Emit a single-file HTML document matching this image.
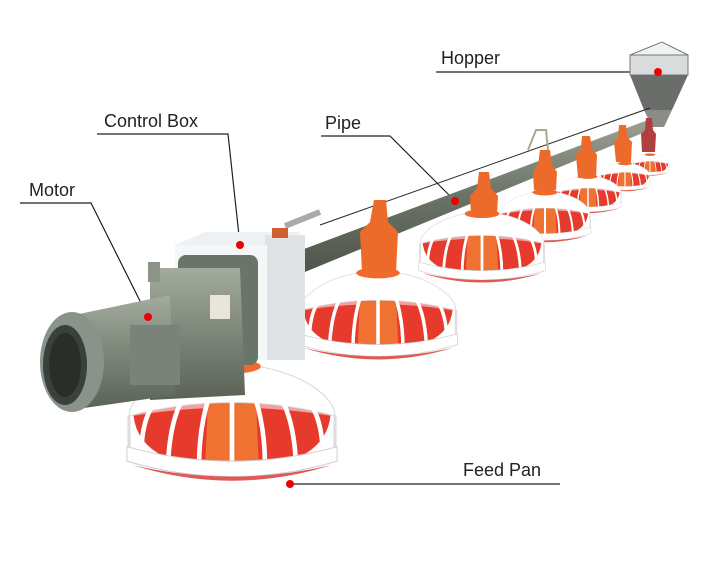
<!DOCTYPE html>
<html><head><meta charset="utf-8"><style>
html,body{margin:0;padding:0;background:#fff;width:727px;height:561px;overflow:hidden}
svg{display:block}
text{font-family:"Liberation Sans",Arial,sans-serif;font-size:18px;fill:#222}
</style></head><body>
<svg width="727" height="561" viewBox="0 0 727 561" xmlns="http://www.w3.org/2000/svg">
<defs>
<linearGradient id="pipe" x1="0" y1="0" x2="0" y2="1">
<stop offset="0" stop-color="#9aa194"/><stop offset="0.5" stop-color="#6b7366"/><stop offset="1" stop-color="#4e544b"/></linearGradient>
<linearGradient id="mot" x1="0" y1="0" x2="0" y2="1">
<stop offset="0" stop-color="#a3ab9f"/><stop offset="0.5" stop-color="#7d8679"/><stop offset="1" stop-color="#5a6258"/></linearGradient>
<g id="pan">
<path d="M-96,55 Q-96,112 0,114 Q96,112 96,55 Q0,38 -96,55 Z" fill="#e63a2c"/>
<path d="M-96,55 Q0,38 96,55 L96,62 Q0,46 -96,62 Z" fill="#f3a0a0"/>
<path d="M-22,20 L22,20 L26,108 L-26,108 Z" fill="#f07232"/>
<path d="M-100,62 C-100,40 -55,12 0,12 C55,12 100,40 100,62 Q0,36 -100,62 Z" fill="#fff" stroke="#d8d8d8"/>
<path d="M-100,95 C-100,70 -100,62 -100,62 M100,62 L100,95" stroke="#ddd" stroke-width="3"/>
<path d="M-88,100 C-88,70 -80,52 -70,44 M-62,106 C-60,70 -52,50 -44,40 M-32,110 C-32,75 -25,50 -20,38 M0,112 L0,36 M32,110 C32,75 25,50 20,38 M62,106 C60,70 52,50 44,40 M88,100 C88,70 80,52 70,44" fill="none" stroke="#fff" stroke-width="4.5"/>
<path d="M-102,92 Q0,120 102,92 L102,106 Q0,136 -102,106 Z" fill="#fff" stroke="#d0d0d0"/>
<path d="M-96,110 Q0,140 96,110 Q0,132 -96,110 Z" fill="#e05a55"/>
<ellipse cx="0" cy="14" rx="28" ry="7" fill="#ef6a2c"/>
</g>
</defs>

<g stroke="#222" stroke-width="1.2" fill="none">
<polyline points="436,72 658,72"/>
<polyline points="321,136 390,136 455,201"/>
<polyline points="97,134 228,134 240,245"/>
<polyline points="20,203 91,203 148,317"/>
<polyline points="290,484 560,484"/>
</g>
<text x="441" y="64">Hopper</text>
<text x="325" y="129">Pipe</text>
<text x="104" y="127">Control Box</text>
<text x="29" y="196">Motor</text>
<text x="463" y="476">Feed Pan</text>

<use href="#pan" transform="translate(650,152) scale(0.19)"/>
<use href="#pan" transform="translate(625,160) scale(0.25)"/>
<use href="#pan" transform="translate(588,172) scale(0.33)"/>
<use href="#pan" transform="translate(545,186) scale(0.45)"/>
<use href="#pan" transform="translate(482,205) scale(0.62)"/>
<use href="#pan" transform="translate(378,262) scale(0.78)"/>

<path d="M630,55 L662,42 L688,55 Z" fill="#f2f2f2" stroke="#777"/>
<rect x="630" y="55" width="58" height="20" fill="#d8dcdc" stroke="#777"/>
<path d="M630,75 L688,75 L672,110 L644,110 Z" fill="#6b6d6a"/>
<path d="M644,110 L672,110 L664,127 L652,127 Z" fill="#8a8c88"/>

<line x1="320" y1="225" x2="650" y2="108" stroke="#222" stroke-width="1"/>
<path d="M296,252 L648,120 L650,130 L300,274 Z" fill="url(#pipe)"/>
<g fill="#ec6a2a">
<path d="M374,200 L386,200 L388,222 L398,232 L396,272 L362,272 L360,232 L370,222 Z"/>
<path d="M479,172 L489,172 L491,188 L498,196 L497,214 L471,214 L470,196 L477,188 Z"/>
<path d="M540,150 L550,150 L552,165 L557,172 L556,190 L534,190 L533,172 L538,165 Z"/>
<path d="M582,136 L590,136 L592,148 L597,155 L596,178 L578,178 L576,155 L581,148 Z"/>
<path d="M619,125 L626,125 L628,138 L632,142 L631,162 L616,162 L614,142 L618,138 Z"/>
<path d="M646,118 L652,118 L653,130 L656,134 L655,152 L642,152 L641,134 L645,130 Z" fill="#b04040"/>
</g>
<path d="M528,150 L536,130 L546,130 L548,150" fill="none" stroke="#aa8" stroke-width="2"/>
<circle cx="455" cy="201" r="4" fill="#e00"/>
<circle cx="658" cy="72" r="4" fill="#e00"/>

<use href="#pan" transform="translate(232,352) scale(1.03)"/>

<path d="M175,245 L205,232 L300,232 L300,250 L175,250 Z" fill="#eef1f3"/>
<rect x="265" y="235" width="40" height="125" fill="#dfe3e6"/>
<rect x="175" y="245" width="92" height="115" fill="#f4f6f7"/>
<path d="M285,226 L320,212" stroke="#aaa" stroke-width="6"/>
<rect x="272" y="228" width="16" height="10" fill="#d06030"/>
<circle cx="240" cy="245" r="4" fill="#e00"/>

<rect x="178" y="255" width="80" height="110" rx="8" fill="#6a7569"/>
<path d="M150,268 L240,268 L245,395 L150,400 Z" fill="url(#mot)"/>
<path d="M60,318 L170,295 L175,395 L70,410 Z" fill="url(#mot)"/>
<rect x="148" y="262" width="12" height="20" fill="#8c948a"/>
<ellipse cx="72" cy="362" rx="32" ry="50" fill="#8a938a"/>
<ellipse cx="65" cy="365" rx="22" ry="40" fill="#3a403a"/>
<ellipse cx="65" cy="365" rx="16" ry="32" fill="#2a2e2a"/>
<rect x="130" y="325" width="50" height="60" fill="#7a8379"/>
<rect x="210" y="295" width="20" height="24" fill="#e9e4dc"/>
<circle cx="148" cy="317" r="4" fill="#e00"/>

<circle cx="290" cy="484" r="4" fill="#e00"/>
</svg>
</body></html>
